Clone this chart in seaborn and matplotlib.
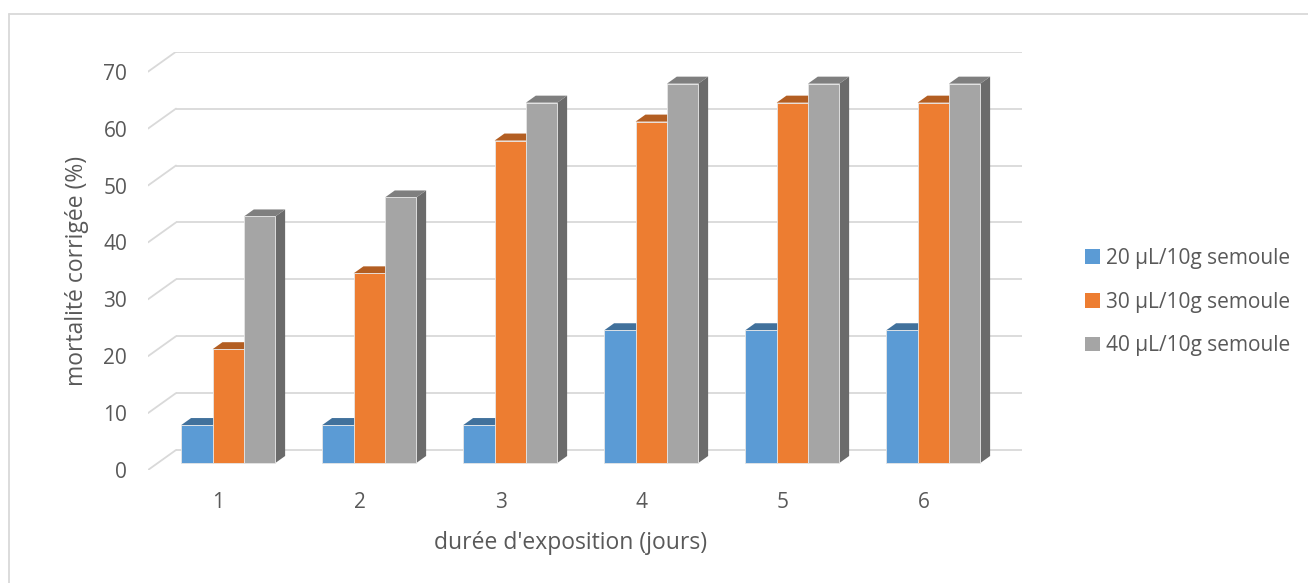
import matplotlib
matplotlib.use("Agg")
import matplotlib.pyplot as plt
from matplotlib.patches import Polygon, Patch
from matplotlib.lines import Line2D
import seaborn as sns
import pandas as pd

# Mortalité corrigée par durée d'exposition et par dose
jours = ["1", "2", "3", "4", "5", "6"]
doses = ["20 µL/10g semoule", "30 µL/10g semoule", "40 µL/10g semoule"]
mort_20 = [6.67, 6.67, 6.67, 23.33, 23.33, 23.33]
mort_30 = [20.0, 33.33, 56.67, 60.0, 63.33, 63.33]
mort_40 = [43.33, 46.67, 63.33, 66.67, 66.67, 66.67]
yticks = [0, 10, 20, 30, 40, 50, 60, 70]

front = ["#5B9BD5", "#ED7D31", "#A5A5A5"]
top = ["#41719C", "#B35E22", "#7F7F7F"]
side = ["#3D6A94", "#A0521D", "#6B6B6B"]
grid_c = "#D9D9D9"
txt_c = "#595959"

df = pd.DataFrame({
    "jour": jours * 3,
    "dose": sum([[d] * len(jours) for d in doses], []),
    "mort": mort_20 + mort_30 + mort_40,
})

sns.set_theme(style="white")
plt.rcParams["font.family"] = ["Open Sans", "DejaVu Sans"]

W, H = 1308, 583
fig = plt.figure(figsize=(W / 100, H / 100), dpi=100)

# oblique projection: depth vector of the floor (in data units)
px_per_x = 141.0
px_per_y = 5.69
DX = 28 / px_per_x
DY = 20 / px_per_y
f0, f1 = 0.35, 0.70   # bar depth span (fraction of floor depth)

x0 = -0.5
x1 = len(jours) - 0.5 + DX
y1 = yticks[-1] + DY
left_px, bottom_px = 148, 470
ax = fig.add_axes([left_px / W, (H - bottom_px) / H,
                   (x1 - x0) * px_per_x / W, y1 * px_per_y / H])

sns.barplot(data=df, x="jour", y="mort", hue="dose", palette=front,
            saturation=1, width=0.667, ax=ax, legend=False,
            edgecolor="#E6E6E6", linewidth=0.6, zorder=3)

# back wall gridlines and left wall diagonals
for v in yticks:
    ax.plot([x0 + DX, x1], [v + DY, v + DY], color=grid_c, lw=1.3,
            zorder=0, solid_capstyle="butt")
    ax.plot([x0, x0 + DX], [v, v + DY], color=grid_c, lw=1.3, zorder=0)

# push bars into depth and add top / side faces
ddx, ddy = (f1 - f0) * DX, (f1 - f0) * DY
for k, cont in enumerate(ax.containers):
    for p in cont.patches:
        p.set_x(p.get_x() + f0 * DX)
        p.set_y(p.get_y() + f0 * DY)
        xl, xr = p.get_x(), p.get_x() + p.get_width()
        yb, yt = p.get_y(), p.get_y() + p.get_height()
        ax.add_patch(Polygon([(xr, yb), (xr + ddx, yb + ddy),
                              (xr + ddx, yt + ddy), (xr, yt)],
                             closed=True, fc=side[k], ec="none", zorder=2))
        ax.add_patch(Polygon([(xl, yt), (xr, yt), (xr + ddx, yt + ddy),
                              (xl + ddx, yt + ddy)],
                             closed=True, fc=top[k], ec="none", zorder=2))

ax.set_xlim(x0, x1)
ax.set_ylim(0, y1)
ax.set_yticks(yticks)
ax.set_yticklabels([str(v) for v in yticks])
ax.set_xticks(range(len(jours)))
ax.set_xticklabels(jours)
ax.tick_params(axis="y", length=0, pad=15, labelsize=15, labelcolor=txt_c)
ax.tick_params(axis="x", length=0, pad=16, labelsize=15, labelcolor=txt_c)
for s in ax.spines.values():
    s.set_visible(False)
ax.set_facecolor("none")

ax.set_ylabel("mortalité corrigée (%)", fontsize=16.5, color=txt_c)
ax.set_xlabel("durée d'exposition (jours)", fontsize=16.5, color=txt_c)
front_w = len(jours) / (x1 - x0)
ax.xaxis.set_label_coords(front_w / 2, -0.145)
ax.yaxis.set_label_coords(-0.068, (yticks[-1] / y1) / 2)

handles = [Patch(facecolor=c, edgecolor="none") for c in front]
leg = fig.legend(handles, doses, loc="center left",
                 bbox_to_anchor=(1075 / W, (H - 302) / H), frameon=False,
                 fontsize=15, handlelength=0.7, handleheight=0.7,
                 handletextpad=0.3, labelspacing=1.1, borderpad=0)
for t in leg.get_texts():
    t.set_color(txt_c)

# chart area border
fig.add_artist(Line2D([9 / W, 9 / W], [0, (H - 14) / H], color=grid_c, lw=1.3))
fig.add_artist(Line2D([9 / W, 1], [(H - 14) / H, (H - 14) / H], color=grid_c, lw=1.3))

fig.savefig("out.png", dpi=100)
